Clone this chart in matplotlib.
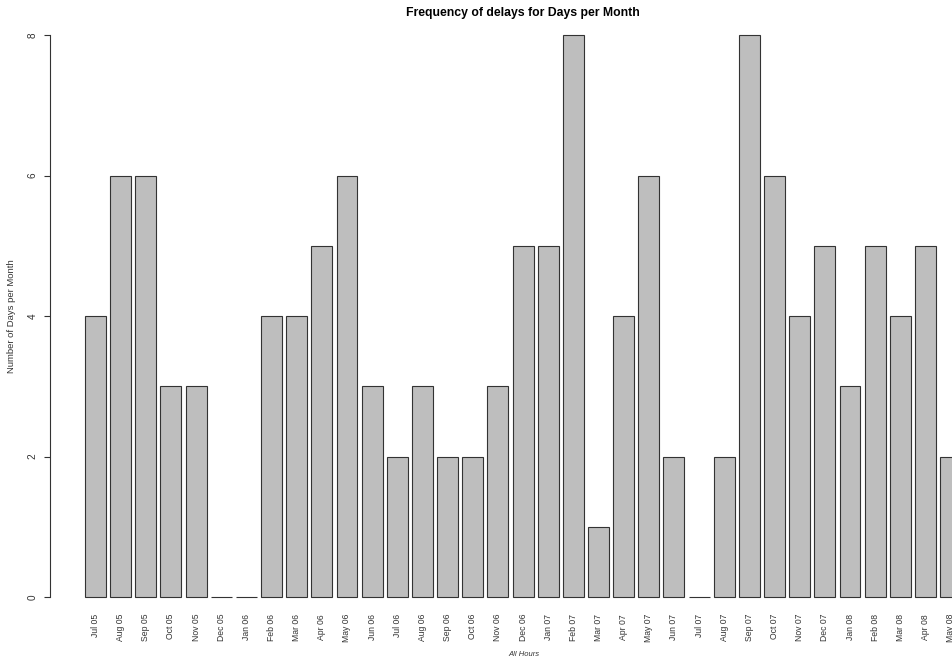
import numpy as np
import matplotlib
matplotlib.use("Agg")
import matplotlib.pyplot as plt

months = ["Jul 05", "Aug 05", "Sep 05", "Oct 05", "Nov 05", "Dec 05", "Jan 06",
          "Feb 06", "Mar 06", "Apr 06", "May 06", "Jun 06", "Jul 06", "Aug 06",
          "Sep 06", "Oct 06", "Nov 06", "Dec 06", "Jan 07", "Feb 07", "Mar 07",
          "Apr 07", "May 07", "Jun 07", "Jul 07", "Aug 07", "Sep 07", "Oct 07",
          "Nov 07", "Dec 07", "Jan 08", "Feb 08", "Mar 08", "Apr 08", "May 08"]
days = [4, 6, 6, 3, 3, 0, 0,
        4, 4, 5, 6, 3, 2, 3,
        2, 2, 3, 5, 5, 8, 1,
        4, 6, 2, 0, 2, 8, 6,
        4, 5, 3, 5, 4, 5, 2]
yticks = [0, 2, 4, 6, 8]

plt.rcParams['font.family'] = ['Liberation Sans', 'DejaVu Sans']

W, H = 953, 661
fig = plt.figure(figsize=(W / 100, H / 100), dpi=100)
fig.patch.set_facecolor('white')

# pixel geometry (R barplot style: width 1, space 0.2)
x_left_px, x_right_px = 49.8, 1000.5
y0_px, y8_px = 597, 35
ax = fig.add_axes([x_left_px / W, 1 - y0_px / H,
                   (x_right_px - x_left_px) / W, (y0_px - y8_px) / H])

pos = 0.7 + 1.2 * np.arange(len(months))
ax.bar(pos, days, width=1.0, color='#BEBEBE', edgecolor='#333333',
       linewidth=0.8, clip_on=False)

ax.set_xlim(-1.48, 43.88)
ax.set_ylim(0, 8)

for s in ['top', 'right', 'bottom']:
    ax.spines[s].set_visible(False)
ax.spines['left'].set_bounds(0, 8)
ax.spines['left'].set_color('#333333')
ax.spines['left'].set_linewidth(0.8)

ax.set_yticks(yticks)
ax.set_yticklabels([str(v) for v in yticks], rotation=90, va='center')
ax.tick_params(axis='y', length=4.3, width=0.8, color='#333333',
               labelsize=7.2, labelcolor='#333333', pad=4.7)

ax.set_xticks(pos)
ax.set_xticklabels(months, rotation=90, va='top', ha='center')
ax.tick_params(axis='x', length=0, labelsize=6.2, labelcolor='#333333', pad=12.2)

fig.text(523 / W, 1 - 13 / H, "Frequency of delays for Days per Month",
         ha='center', va='center', fontsize=8.85, fontweight='bold', color='black')
fig.text(12 / W, 1 - 316 / H, "Number of Days per Month", rotation=90,
         ha='center', va='center', fontsize=6.8, color='#333333')
fig.text(523.5 / W, 1 - 655 / H, "All Hours", ha='center', va='center',
         fontsize=5.5, style='italic', color='#333333')

fig.savefig("out.png", dpi=100)
